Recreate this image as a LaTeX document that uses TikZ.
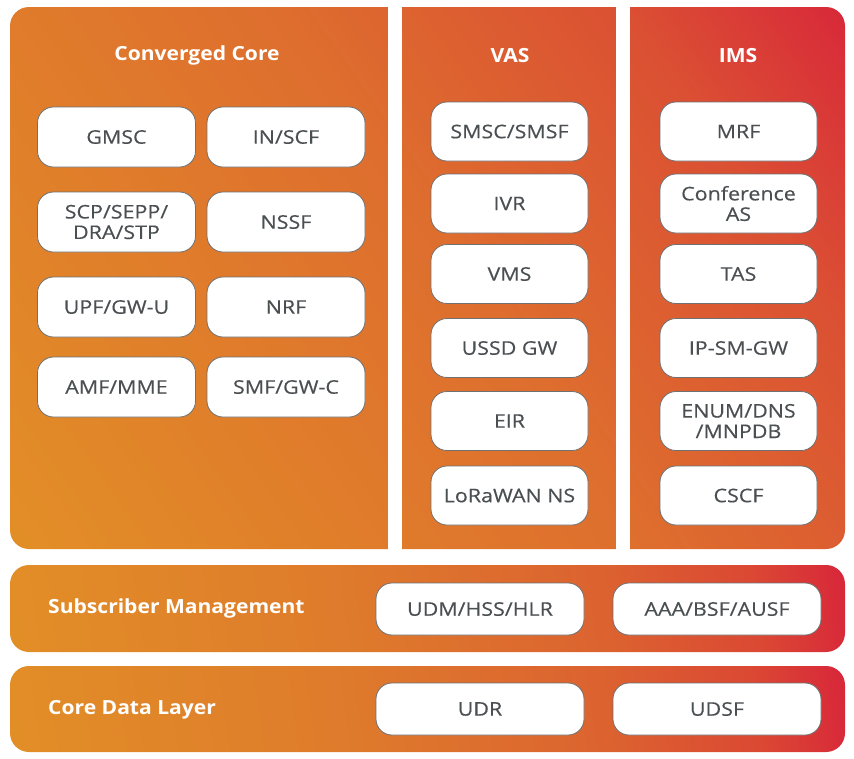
\documentclass[tikz,border=0pt]{standalone}
\usepackage{fontspec}
\setmainfont{Open Sans}
\newfontfamily\boxfont{Open Sans}[FakeStretch=1.14, FakeBold=0.3]
\newfontfamily\ttlfont{Open Sans}[FakeStretch=1.08]
\definecolor{gA}{HTML}{E28E27}
\definecolor{gB}{HTML}{DE6E2E}
\definecolor{gC}{HTML}{DB5033}
\definecolor{gD}{HTML}{D8283A}
\definecolor{bA}{HTML}{E28E27}
\definecolor{bB}{HTML}{DE7A2C}
\definecolor{bC}{HTML}{DC6230}
\definecolor{bD}{HTML}{DB4833}
\definecolor{bE}{HTML}{D8283A}
\definecolor{boxline}{HTML}{6E7072}
\definecolor{boxtext}{HTML}{4A4F52}
\pgfdeclarehorizontalshading{panelshade}{100bp}{color(0bp)=(gA); color(16bp)=(gA); color(52bp)=(gB); color(72bp)=(gC); color(85bp)=(gD); color(100bp)=(gD)}
\pgfdeclarehorizontalshading{barshade}{100bp}{color(0bp)=(bA); color(22bp)=(bA); color(45bp)=(bB); color(62bp)=(bC); color(72bp)=(bD); color(78bp)=(bE); color(100bp)=(bE)}
\tikzset{
  fbox/.style={draw=boxline, line width=0.8pt, fill=white, rounded corners=16pt,
    minimum width=158pt, minimum height=60pt, inner sep=0pt, align=center,
    text=boxtext, font=\boxfont\fontsize{18.8}{20.5}\selectfont},
  vbox/.style={fbox, minimum width=157pt, minimum height=59pt},
  bbox/.style={fbox, minimum width=208pt, minimum height=52pt},
  ttl/.style={text=white, font=\ttlfont\fontsize{19.5}{22}\selectfont\bfseries, inner sep=0pt},
  panel/.style={shading=panelshade, shading angle=35, rounded corners=19pt},
  bar/.style={shading=barshade, shading angle=8, rounded corners=19pt}
}
\begin{document}
\begin{tikzpicture}[x=1pt,y=-1pt]
\useasboundingbox (0,0) rectangle (854,758);
% top panel
\shade[panel] (10,7) rectangle (845,549);
\fill[white] (388,0) rectangle (402,556);
\fill[white] (616,0) rectangle (630,556);
% bars
\shade[bar] (10,565) rectangle (845,652);
\shade[bar] (10,666) rectangle (845,752);
% titles
\node[ttl] (tcc) at (197,55) {Converged Core};
\node[ttl] (tvas) at (510,55.5) {VAS};
\node[ttl] (tims) at (738,55.5) {IMS};
\node[ttl, anchor=west] (tsm) at (48,608.5) {Subscriber Management};
\node[ttl, anchor=west] (tcd) at (48,709.5) {Core Data Layer};
% converged core
\node[fbox] (gmsc) at (116.5,137) {GMSC};
\node[fbox] (inscf) at (286,137) {IN/SCF};
\node[fbox] (scp) at (116.5,222) {SCP/SEPP/\\DRA/STP};
\node[fbox] (nssf) at (286,222) {NSSF};
\node[fbox] (upf) at (116.5,307) {UPF/GW-U};
\node[fbox] (nrf) at (286,307) {NRF};
\node[fbox] (amf) at (116.5,387) {AMF/MME};
\node[fbox] (smf) at (286,387) {SMF/GW-C};
% VAS
\node[vbox] (smsc) at (509.5,131.5) {SMSC/SMSF};
\node[vbox] (ivr) at (509.5,203.5) {IVR};
\node[vbox] (vms) at (509.5,274) {VMS};
\node[vbox] (ussd) at (509.5,348) {USSD GW};
\node[vbox] (eir) at (509.5,421) {EIR};
\node[vbox] (lora) at (509.5,495.5) {LoRaWAN NS};
% IMS
\node[vbox] (mrf) at (738.5,131.5) {MRF};
\node[vbox] (conf) at (738.5,203.5) {Conference\\AS};
\node[vbox] (tas) at (738.5,274) {TAS};
\node[vbox] (ipsm) at (738.5,348) {IP-SM-GW};
\node[vbox] (enum) at (738.5,421) {ENUM/DNS\\/MNPDB};
\node[vbox] (cscf) at (738.5,495.5) {CSCF};
% bars boxes
\node[bbox] (udm) at (480,609) {UDM/HSS/HLR};
\node[bbox] (aaa) at (717,609) {AAA/BSF/AUSF};
\node[bbox] (udr) at (480,709) {UDR};
\node[bbox] (udsf) at (717,709) {UDSF};
\end{tikzpicture}
\end{document}
